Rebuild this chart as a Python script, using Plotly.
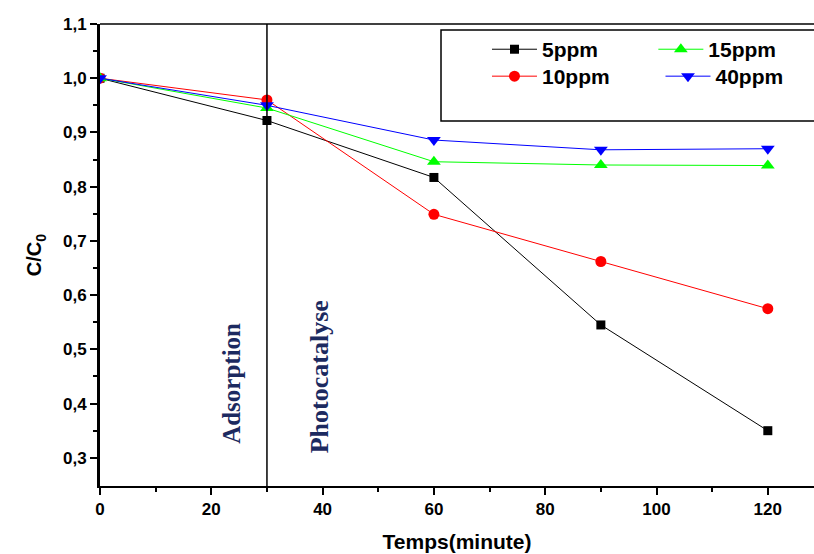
import plotly.graph_objects as go

time_min = [0, 30, 60, 90, 120]
c_5ppm = [1.0, 0.922, 0.817, 0.545, 0.350]
c_10ppm = [1.0, 0.960, 0.749, 0.662, 0.575]
c_15ppm = [1.0, 0.945, 0.846, 0.840, 0.839]
c_40ppm = [1.0, 0.950, 0.886, 0.868, 0.870]

series = [
    ("5ppm", c_5ppm, "#000000", "square", 9, "legend"),
    ("10ppm", c_10ppm, "#ff0000", "circle", 11, "legend2"),
    ("15ppm", c_15ppm, "#00ff00", "triangle-up", 12, "legend3"),
    ("40ppm", c_40ppm, "#0000ff", "triangle-down", 12, "legend4"),
]

fig = go.Figure()
for name, vals, col, sym, sz, leg in series:
    fig.add_trace(go.Scatter(
        x=time_min, y=vals, name=name, mode="lines+markers",
        line=dict(color=col, width=1),
        marker=dict(symbol=sym, size=sz, color=col),
        legend=leg,
    ))

font_bold = "Liberation Sans"
leg_font = dict(family=font_bold, size=21, color="black", weight="bold")
def leg(x, y):
    return dict(x=x, y=y, xanchor="left", yanchor="top", itemwidth=45,
                bgcolor="rgba(0,0,0,0)", tracegroupgap=0, font=leg_font)

fig.update_layout(
    width=814, height=554,
    margin=dict(l=100, r=0, t=24, b=68),
    paper_bgcolor="white", plot_bgcolor="white",
    separators=", ",
    showlegend=True,
    legend=leg(0.542, 0.989),
    legend2=leg(0.542, 0.9307),
    legend3=leg(0.775, 0.989),
    legend4=leg(0.785, 0.9307),
    xaxis=dict(range=[0, 128.3], tickmode="array", tickvals=[0, 20, 40, 60, 80, 100, 120],
               ticks="outside", ticklen=7, tickwidth=2, tickcolor="black",
               minor=dict(tickvals=[10, 30, 50, 70, 90, 110], ticks="outside", ticklen=4, tickwidth=1.5, tickcolor="black"),
               showline=True, linecolor="black", linewidth=2, showgrid=False, zeroline=False,
               tickfont=dict(family=font_bold, size=17, color="black", weight="bold"),
               title=dict(text="Temps(minute)", standoff=16,
                          font=dict(family=font_bold, size=21, color="black", weight="bold"))),
    yaxis=dict(range=[0.248, 1.1], tickmode="array",
               tickvals=[0.3, 0.4, 0.5, 0.6, 0.7, 0.8, 0.9, 1.0, 1.1], tickformat=".1f",
               ticks="outside", ticklen=7, tickwidth=2, tickcolor="black",
               minor=dict(tickvals=[0.35, 0.45, 0.55, 0.65, 0.75, 0.85, 0.95, 1.05], ticks="outside", ticklen=4, tickwidth=1.5, tickcolor="black"),
               showline=True, linecolor="black", linewidth=3, showgrid=False, zeroline=False,
               tickfont=dict(family=font_bold, size=17, color="black", weight="bold"),
               title=dict(text="C/C<sub>0</sub>", standoff=16,
                          font=dict(family=font_bold, size=20, color="black", weight="bold"))),
)

# top frame line
fig.add_shape(type="line", xref="paper", yref="paper", x0=0, x1=1, y0=1, y1=1,
              line=dict(color="black", width=1.5))
# separation line at 30 min
fig.add_shape(type="line", xref="x", yref="paper", x0=30, x1=30, y0=0, y1=1,
              line=dict(color="black", width=1.5))
# legend box
fig.add_shape(type="rect", xref="paper", yref="paper", x0=0.4776, x1=1.05, y0=0.79, y1=0.987,
              line=dict(color="black", width=1.5), fillcolor="rgba(0,0,0,0)")

txt_font = dict(family="Liberation Serif", size=25, color="#1c2a60", weight="bold")
fig.add_annotation(x=23.7, y=0.438, xref="x", yref="y", text="Adsorption", textangle=-90,
                   showarrow=False, font=txt_font)
fig.add_annotation(x=39.5, y=0.45, xref="x", yref="y", text="Photocatalyse", textangle=-90,
                   showarrow=False, font=dict(txt_font, size=26))

fig.write_html("out.html", config={"displayModeBar": False},
               post_script="document.body.style.margin='0';document.body.style.overflow='hidden';")
